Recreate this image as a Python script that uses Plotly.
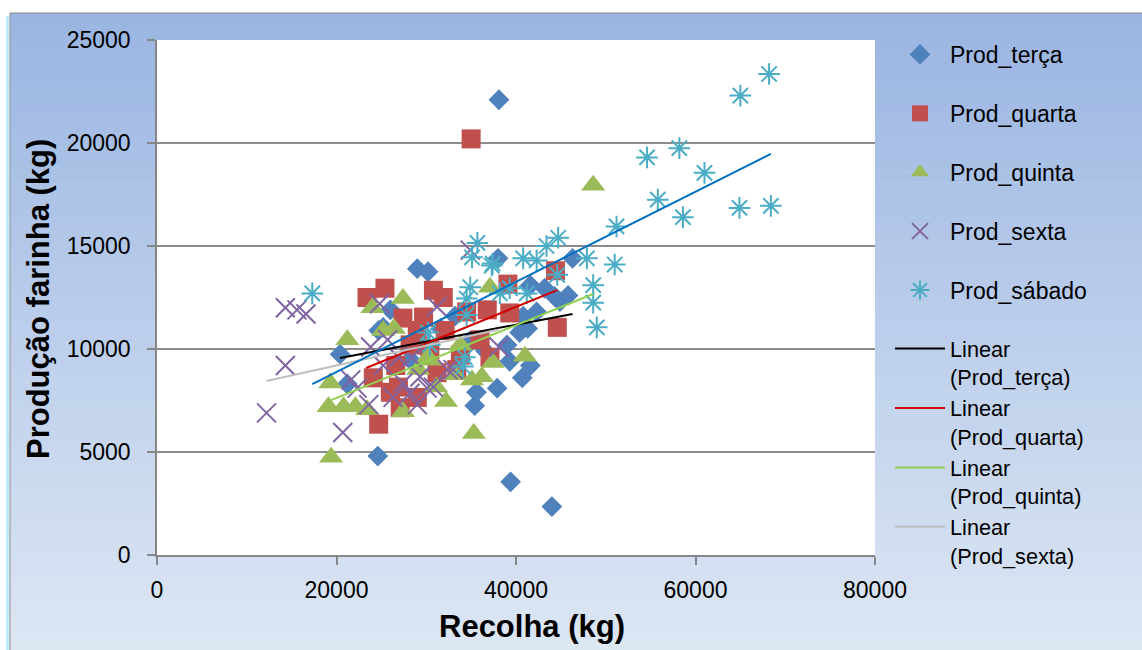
import plotly.graph_objects as go

# ---------------- data ----------------
terca_x = [38100, 29000, 30200, 38000, 46300, 20400, 21200, 24600, 39400, 44000,
           24700, 26000, 25200, 35400, 35600, 37900, 40700, 41600, 39300, 39000,
           40400, 41300, 40800, 42300, 44900, 45800, 41600, 43200, 44300, 28200,
           29300, 31600, 33200, 34900, 36600]
terca_y = [22100, 13900, 13750, 14400, 14400, 9750, 8300, 4800, 3550, 2350,
           10900, 11900, 11050, 7250, 7900, 8100, 8600, 9200, 9400, 10200,
           10800, 11000, 11600, 11800, 12300, 12600, 13100, 12950, 12550, 9500,
           10200, 11000, 11600, 10400, 9900]

quarta_x = [35000, 23400, 25400, 24700, 30800, 31900, 27400, 29700, 29000, 32100,
            34500, 36800, 39100, 39300, 44400, 44600, 37100, 33400, 31200, 26900,
            29000, 27100, 24100, 26000, 33800, 30400, 28200, 26600, 36000]
quarta_y = [20200, 12500, 12950, 6350, 12850, 12500, 11500, 11550, 10900, 10900,
            11800, 11900, 13150, 11750, 13800, 11050, 9600, 9000, 8850, 8150,
            7650, 7150, 8600, 7900, 9700, 9950, 10200, 9200, 10450]

quinta_x = [48600, 19400, 35300, 21200, 19300, 19100, 20800, 22100, 24000, 27400,
            25200, 26400, 37100, 35100, 36200, 37400, 41000, 30400, 31100, 32200,
            27400, 23400, 30200, 29100, 33800, 33200]
quinta_y = [17950, 4750, 5900, 10450, 8350, 7200, 7200, 7200, 12000, 12450,
            10900, 11000, 13000, 8500, 8650, 9350, 9650, 9450, 8150, 7450,
            6950, 7050, 9600, 9000, 10200, 8750]

sexta_x = [12200, 14300, 15600, 16600, 14300, 20700, 23600, 24800, 21600, 22300,
           27400, 28200, 29300, 30100, 32400, 23800, 25700, 26900, 25200, 34900,
           31200, 28400, 30800, 29000, 38100, 33000, 26300]
sexta_y = [6900, 12000, 11900, 11700, 9200, 5950, 7300, 12200, 8500, 8100,
           8350, 7850, 8650, 8100, 9000, 10100, 10450, 9600, 9200, 14800,
           12050, 9600, 8150, 7300, 10100, 9000, 7650]

sabado_x = [68200, 65000, 58200, 54600, 61000, 55800, 58600, 64900, 68400, 51200,
            51000, 48600, 48600, 49000, 47900, 44700, 43400, 42300, 40800, 37400,
            35700, 35100, 44600, 39300, 34500, 41200, 17300, 30200, 34300, 34900,
            38200, 34500, 34100, 30400, 37300]
sabado_y = [23350, 22300, 19750, 19300, 18550, 17250, 16400, 16850, 16950, 15950,
            14100, 13100, 12250, 11050, 14400, 15400, 15000, 14300, 14400, 14150,
            15150, 14450, 13600, 12950, 12450, 12700, 12700, 10800, 9600, 13000,
            12700, 11650, 9150, 10200, 14050]

# linear trend lines (end points)
trend_terca_x, trend_terca_y = [20400, 46300], [9560, 11700]
trend_quarta_x, trend_quarta_y = [23300, 44600], [9080, 12860]
trend_quinta_x, trend_quinta_y = [19400, 48600], [7520, 12670]
trend_sexta_x, trend_sexta_y = [12200, 38100], [8450, 10950]
trend_sabado_x, trend_sabado_y = [17300, 68400], [8300, 19470]

x_ticks = [0, 20000, 40000, 60000, 80000]
y_ticks = [0, 5000, 10000, 15000, 20000, 25000]

# ---------------- figure ----------------
FONT = "Liberation Sans, Arial, sans-serif"
fig = go.Figure()

series = [
    ("Prod_terça", terca_x, terca_y, "diamond", 16, "#4F81BD", False),
    ("Prod_quarta", quarta_x, quarta_y, "square", 19, "#C0504D", False),
    ("Prod_quinta", quinta_x, quinta_y, "triangle-up", 21, "#9BBB59", False),
    ("Prod_sexta", sexta_x, sexta_y, "x-thin-open", 19, "#8064A2", True),
    ("Prod_sábado", sabado_x, sabado_y, "asterisk-open", 18, "#4BACC6", True),
]
for name, xs, ys, sym, size, col, is_line in series:
    marker = dict(symbol=sym, size=size, color=col)
    if is_line:
        marker["line"] = dict(color=col, width=2)
    else:
        marker["line"] = dict(width=0)
    fig.add_trace(go.Scatter(x=xs, y=ys, mode="markers", name=name, marker=marker,
                             legendgroup=name, legend="legend"))

trends = [
    ("Linear<br>(Prod_terça)", trend_terca_x, trend_terca_y, "#000000", True),
    ("Linear<br>(Prod_quarta)", trend_quarta_x, trend_quarta_y, "#D00000", True),
    ("Linear<br>(Prod_quinta)", trend_quinta_x, trend_quinta_y, "#92D050", True),
    ("Linear<br>(Prod_sexta)", trend_sexta_x, trend_sexta_y, "#BFBFBF", True),
    ("Linear (Prod_sábado)", trend_sabado_x, trend_sabado_y, "#0070C0", False),
]
for name, xs, ys, col, show in trends:
    fig.add_trace(go.Scatter(x=xs, y=ys, mode="lines", name=name,
                             line=dict(color=col, width=2), showlegend=show,
                             legend="legend2"))

# background gradient (decoration)
W, H = 1142, 650
L, R, T, B = 157, 875, 40, 555
pw, ph = R - L, B - T
def px2x(p): return (p - L) / pw
def py2y(p): return (B - p) / ph
top_c = (154, 181, 226)
bot_c = (221, 231, 244)
shapes = []
n = 64
y0p, y1p = 13, 650
for i in range(n):
    a = y0p + (y1p - y0p) * i / n
    b = y0p + (y1p - y0p) * (i + 1) / n + 0.6
    t = (i + 0.5) / n
    c = tuple(round(top_c[k] + (bot_c[k] - top_c[k]) * t) for k in range(3))
    shapes.append(dict(type="rect", xref="paper", yref="paper", layer="below",
                       x0=px2x(10), x1=px2x(W + 2), y0=py2y(b), y1=py2y(a),
                       line=dict(width=0), fillcolor="rgb(%d,%d,%d)" % c))
# frame border
shapes.append(dict(type="line", xref="paper", yref="paper", layer="below",
                   x0=px2x(10), x1=px2x(W + 2), y0=py2y(13), y1=py2y(13),
                   line=dict(color="#8A8A8A", width=1)))
shapes.append(dict(type="line", xref="paper", yref="paper", layer="below",
                   x0=px2x(10), x1=px2x(10), y0=py2y(13), y1=py2y(H + 2),
                   line=dict(color="#8A8A8A", width=1)))
shapes.append(dict(type="line", xref="paper", yref="paper", layer="below",
                   x0=px2x(7.5), x1=px2x(7.5), y0=py2y(16), y1=py2y(H + 2),
                   line=dict(color="#BDEBFA", width=3)))
# white plot area
shapes.append(dict(type="rect", xref="paper", yref="paper", layer="below",
                   x0=0, x1=1, y0=0, y1=1, line=dict(width=0), fillcolor="white"))

fig.update_layout(
    width=W, height=H,
    margin=dict(l=L, r=W - R, t=T, b=H - B),
    paper_bgcolor="white", plot_bgcolor="rgba(0,0,0,0)",
    font=dict(family=FONT, size=23, color="black"),
    shapes=shapes,
    showlegend=True,
    legend=dict(x=px2x(890), y=py2y(33), xanchor="left", yanchor="top",
                bgcolor="rgba(0,0,0,0)", font=dict(family=FONT, size=23),
                tracegroupgap=26, itemsizing="trace", itemwidth=50),
    legend2=dict(x=px2x(890), y=py2y(328), xanchor="left", yanchor="top",
                 bgcolor="rgba(0,0,0,0)", font=dict(family=FONT, size=21.7),
                 tracegroupgap=0, valign="top", itemwidth=50),
    annotations=[
        dict(text="<b>Recolha (kg)</b>", xref="paper", yref="paper",
             x=px2x(532), y=py2y(626), showarrow=False,
             font=dict(family=FONT, size=31, color="black"),
             xanchor="center", yanchor="middle"),
        dict(text="<b>Produção farinha (kg)</b>", xref="paper", yref="paper",
             x=px2x(38), y=py2y(299), showarrow=False, textangle=-90,
             font=dict(family=FONT, size=31, color="black"),
             xanchor="center", yanchor="middle"),
    ],
)
fig.update_xaxes(range=[0, 80000], tickvals=x_ticks, ticktext=[str(v) for v in x_ticks],
                 showgrid=False, zeroline=False, showline=True, linecolor="#868686",
                 linewidth=1.5, ticks="outside", ticklen=8, tickcolor="#868686",
                 tickwidth=1.5, ticklabelstandoff=6, tickfont=dict(size=23))
fig.update_yaxes(range=[0, 25000], tickvals=y_ticks, ticktext=[str(v) for v in y_ticks],
                 showgrid=True, gridcolor="#8C8C8C", gridwidth=1.5, zeroline=False,
                 showline=True, linecolor="#868686", linewidth=1.5, ticks="outside",
                 ticklen=8, tickcolor="#868686", tickwidth=1.5, ticklabelstandoff=12,
                 tickfont=dict(size=23))

fig.write_html("out.html")
